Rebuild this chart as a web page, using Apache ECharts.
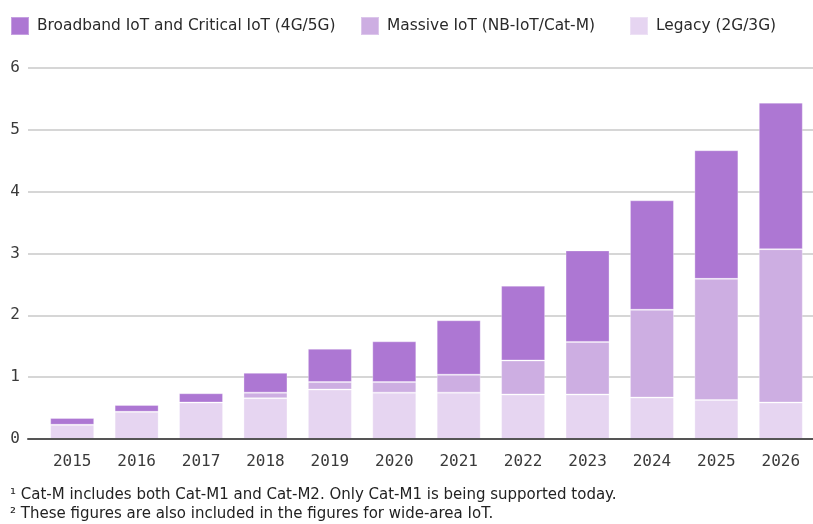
<!DOCTYPE html>
<html>
<head>
<meta charset="utf-8">
<script src="https://cdn.jsdelivr.net/npm/echarts@6/dist/echarts.min.js"></script>
<style>
html,body{margin:0;padding:0;background:#fff;}
#chart{width:813px;height:524px;}
</style>
</head>
<body>
<div id="chart"></div>
<script>
var categories = ['2015','2016','2017','2018','2019','2020','2021','2022','2023','2024','2025','2026'];
var legacy    = [0.23,0.44,0.59,0.66,0.80,0.75,0.75,0.72,0.72,0.67,0.63,0.59];
var massive   = [0.00,0.00,0.00,0.09,0.12,0.17,0.29,0.55,0.85,1.42,1.96,2.48];
var broadband = [0.11,0.11,0.15,0.32,0.54,0.66,0.88,1.21,1.48,1.77,2.08,2.37];
var seriesNames = ['Broadband IoT and Critical IoT (4G/5G)','Massive IoT (NB-IoT/Cat-M)','Legacy (2G/3G)'];
var footnotes = ['\u00b9 Cat-M includes both Cat-M1 and Cat-M2. Only Cat-M1 is being supported today.',
                 '\u00b2 These figures are also included in the figures for wide-area IoT.'];

var colors = ['#ad77d3','#cdaee2','#e6d5f1'];
var textFont = 'DejaVu Sans';
var monoFont = 'DejaVu Sans Mono';

var chart = echarts.init(document.getElementById('chart'));
function legendOf(i, left){
  return {
    data:[seriesNames[i]], left:left, top:16, padding:0, itemWidth:18, itemHeight:18, itemGap:0,
    icon:'rect', selectedMode:false,
    textStyle:{fontFamily:textFont, fontSize:15.4, color:'#2a2a2a', padding:[0,0,0,3]}
  };
}
chart.setOption({
  animation:false,
  backgroundColor:'#fff',
  legend:[legendOf(0,10), legendOf(1,360), legendOf(2,629)],
  grid:[
    {left:28, right:0, top:68, bottom:85},
    {left:40, right:0, top:68, bottom:85}
  ],
  xAxis:[
    {gridIndex:0, type:'category', data:[''], axisLine:{show:true, lineStyle:{color:'#555', width:2}},
     axisTick:{show:false}, axisLabel:{show:false}, z:5},
    {gridIndex:1, type:'category', data:categories, axisLine:{show:false}, axisTick:{show:false},
     axisLabel:{fontFamily:monoFont, fontSize:16, color:'#3a3a3a', margin:15}}
  ],
  yAxis:[
    {gridIndex:0, type:'value', min:0, max:6, interval:1,
     axisLine:{show:false}, axisTick:{show:false},
     axisLabel:{fontFamily:monoFont, fontSize:16, color:'#3a3a3a', margin:8},
     splitLine:{lineStyle:{color:'#c8c8c8', width:1.5}}},
    {gridIndex:1, type:'value', min:0, max:6, interval:1, show:false, splitLine:{show:false}}
  ],
  series:[
    {name:seriesNames[2], type:'bar', stack:'t', xAxisIndex:1, yAxisIndex:1, data:legacy, barWidth:44,
     itemStyle:{color:colors[2], borderColor:'rgba(255,255,255,0.3)', borderWidth:1}},
    {name:seriesNames[1], type:'bar', stack:'t', xAxisIndex:1, yAxisIndex:1, data:massive, barWidth:44,
     itemStyle:{color:colors[1], borderColor:'rgba(255,255,255,0.3)', borderWidth:1}},
    {name:seriesNames[0], type:'bar', stack:'t', xAxisIndex:1, yAxisIndex:1, data:broadband, barWidth:44,
     itemStyle:{color:colors[0], borderColor:'rgba(255,255,255,0.3)', borderWidth:1}}
  ],
  graphic:[
    {type:'text', x:10, y:495, style:{text:footnotes[0], font:'15px "DejaVu Sans"', fill:'#222', verticalAlign:'middle'}},
    {type:'text', x:10, y:514, style:{text:footnotes[1], font:'15px "DejaVu Sans"', fill:'#222', verticalAlign:'middle'}}
  ]
});
</script>
</body>
</html>
